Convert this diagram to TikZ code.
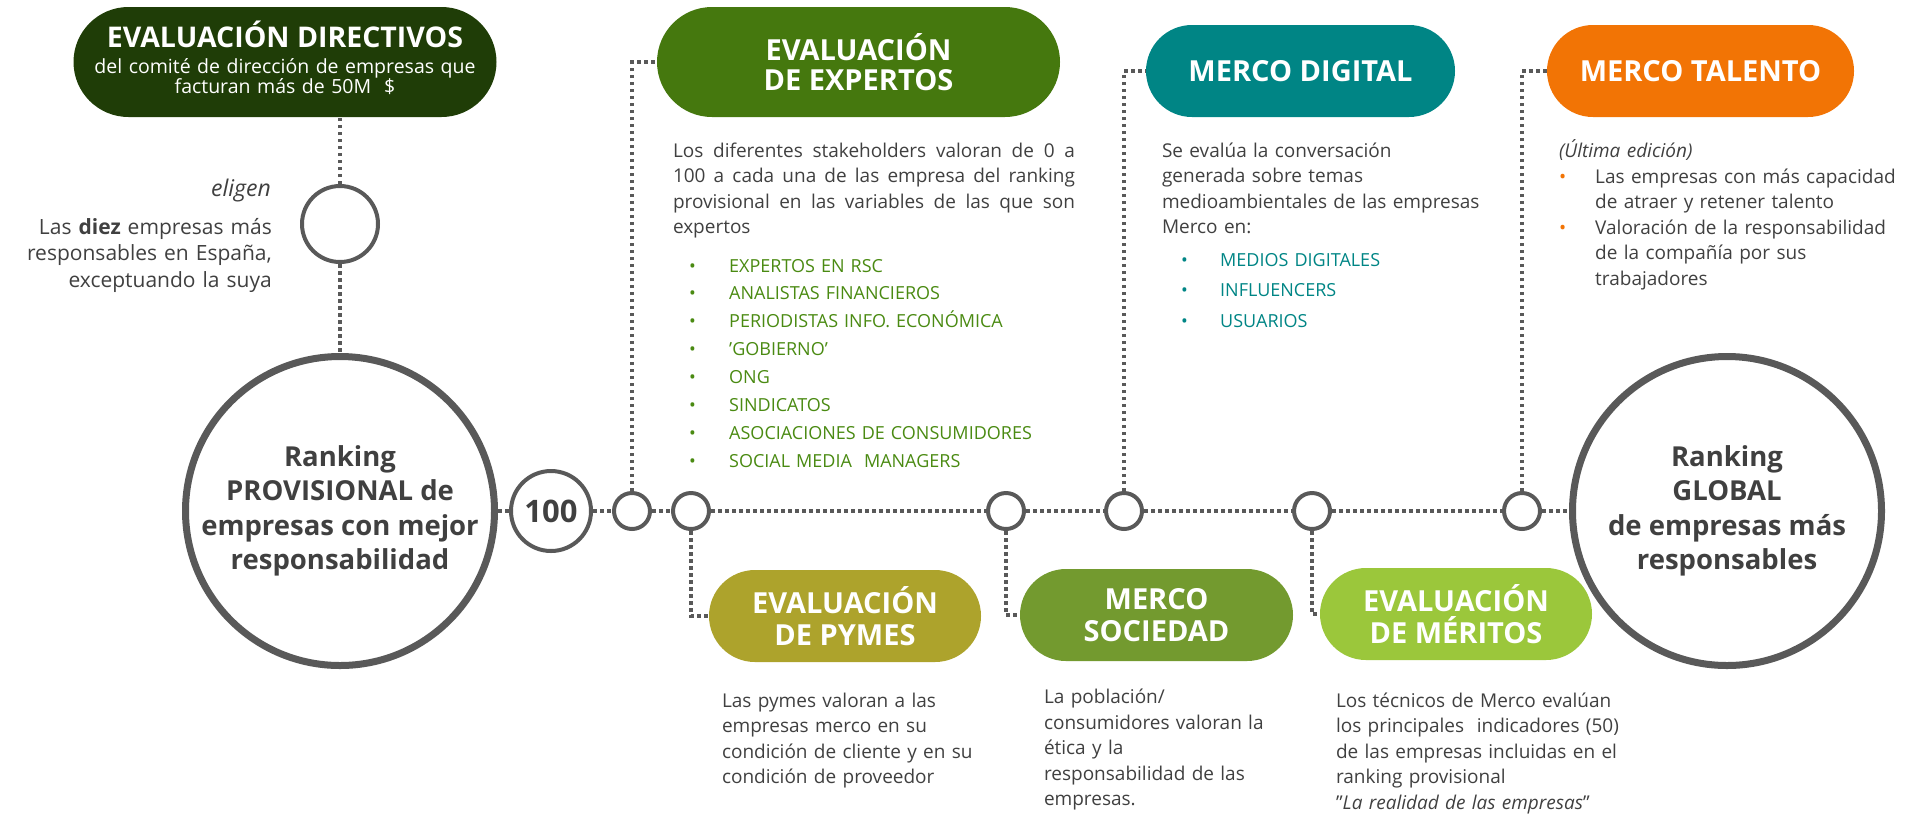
\documentclass[tikz,border=0pt]{standalone}
\usepackage{fontspec}
\setmainfont{Open Sans}
\usetikzlibrary{positioning}
\hyphenpenalty=10000
\exhyphenpenalty=10000

\definecolor{grisLinea}{HTML}{595959}
\definecolor{grisTexto}{HTML}{404040}
\definecolor{verdeOscuro}{HTML}{1F3D07}
\definecolor{verdeExpertos}{HTML}{45780E}
\definecolor{verdeLista}{HTML}{4A8A12}
\definecolor{tealDigital}{HTML}{008585}
\definecolor{naranjaTalento}{HTML}{F27405}
\definecolor{oliva}{HTML}{ADA32C}
\definecolor{verdeSociedad}{HTML}{739A2F}
\definecolor{verdeMeritos}{HTML}{9BC73B}

\begin{document}
\begin{tikzpicture}[x=1pt, y=-1pt,
    pildora/.style={rectangle, rounded corners=46pt, minimum height=92pt, inner sep=0pt, text=white, align=center, font=\fontsize{29}{32}\selectfont\bfseries},
    pildoraAlta/.style={pildora, rounded corners=55pt, minimum height=110pt},
    aro/.style={circle, draw=grisLinea, line width=4pt, minimum size=36pt, inner sep=0pt},
    aroGrande/.style={circle, draw=grisLinea, line width=7pt, minimum size=309pt, inner sep=0pt, align=center, text=grisTexto, font=\fontsize{27.5}{34.5}\selectfont\bfseries},
    linea/.style={grisLinea, line width=3.5pt, dash pattern=on 3.5pt off 3.5pt},
    texto/.style={text=grisTexto, inner sep=0pt, text width=340pt, align=left, font=\fontsize{19}{25.5}\selectfont},
    lista/.style={inner sep=0pt, text width=440pt, align=left, anchor=base west, font=\fontsize{18}{27.9}\selectfont}]
  \useasboundingbox (0,0) rectangle (1908,815);

  % Círculos
  \node[aroGrande] (provC) at (340,511) {Ranking\\PROVISIONAL de\\empresas con mejor\\responsabilidad};
  \node[aroGrande] (globalC) at (1727,511) {Ranking\\GLOBAL\\de empresas más\\responsables};
  \node[aro, minimum size=80pt, text=grisTexto, font=\fontsize{31}{31}\selectfont\bfseries] (cienC) at (551,511) {100};
  \node[aro, minimum size=76pt] (eligenC) at (340,224) {};
  \node[aro] (c1) at (632,511) {};
  \node[aro] (c2) at (691,511) {};
  \node[aro] (c3) at (1006,511) {};
  \node[aro] (c4) at (1124,511) {};
  \node[aro] (c5) at (1312,511) {};
  \node[aro] (c6) at (1522,511) {};

  % Píldoras
  \node[pildoraAlta, fill=verdeOscuro, minimum width=423pt] (dirPill) at (285,62) {};
  \node[text=white, anchor=base, font=\fontsize{28.5}{30}\selectfont\bfseries] (dirTit) at (285,47) {EVALUACIÓN DIRECTIVOS};
  \node[text=white, anchor=base, text width=420pt, align=center, font=\fontsize{19.5}{20.5}\selectfont] (dirSub) at (285,73) {del comité de dirección de empresas que\\facturan más de 50M \ \$};
  \node[pildoraAlta, fill=verdeExpertos, minimum width=403pt, font=\fontsize{29}{30}\selectfont\bfseries] (expPill) at (858.5,62) {EVALUACIÓN\\DE EXPERTOS};
  \node[pildora, fill=tealDigital, minimum width=309pt] (digPill) at (1300.5,71) {MERCO DIGITAL};
  \node[pildora, fill=naranjaTalento, minimum width=307pt] (talPill) at (1700.5,71) {MERCO TALENTO};
  \node[pildora, fill=oliva, minimum width=272pt] (pymPill) at (845,616) {EVALUACIÓN\\DE PYMES};
  \node[pildora, fill=verdeSociedad, minimum width=273pt] (socPill) at (1156.5,615) {MERCO\\SOCIEDAD};
  \node[pildora, fill=verdeMeritos, minimum width=272pt] (merPill) at (1456,614) {EVALUACIÓN\\DE MÉRITOS};

  % Textos
  \node[texto, anchor=base east, text width=260pt, align=right, font=\fontsize{23}{25}\selectfont\itshape] (eligenTxt) at (271,196) {eligen};
  \node[texto, anchor=base east, text width=280pt, align=right, font=\fontsize{21}{26.5}\selectfont] (diezTxt) at (272,234) {Las \textbf{diez} empresas más\\responsables en España,\\exceptuando la suya};
  \node[texto, below right=25.5pt and 16pt of expPill.south west, text width=402pt, align=justify] (expTxt) {Los diferentes stakeholders valoran de 0 a\linebreak 100 a cada una de las empresa del ranking\linebreak provisional en las variables de las que son\linebreak expertos};
  \node[texto, below right=25.5pt and 16pt of digPill.south west] (digTxt) {Se evalúa la conversación\\generada sobre temas\\medioambientales de las empresas\\Merco en:};
  \node[texto, below right=22pt and 12pt of talPill.south west] (talTxt) {\textit{(Última edición)}};
  \node[texto, below right=30.5pt and 13pt of pymPill.south west] (pymTxt) {Las pymes valoran a las\\empresas merco en su\\condición de cliente y en su\\condición de proveedor};
  \node[texto, below right=28pt and 24pt of socPill.south west] (socTxt) {La población/\\consumidores valoran la\\ética y la\\responsabilidad de las\\empresas.};
  \node[texto, below right=32.5pt and 16pt of merPill.south west] (merTxt) {Los técnicos de Merco evalúan\\los principales \ indicadores (50)\\de las empresas incluidas en el\\ranking provisional\\\symbol{34}\textit{La realidad de las empresas}\symbol{34}};

  % Listas
  \node[lista, text=verdeLista] (expLst) at (689,272) {\makebox[40pt][l]{\textbullet}EXPERTOS EN RSC\\\makebox[40pt][l]{\textbullet}ANALISTAS FINANCIEROS\\\makebox[40pt][l]{\textbullet}PERIODISTAS INFO. ECONÓMICA\\\makebox[40pt][l]{\textbullet}\symbol{39}GOBIERNO’\\\makebox[40pt][l]{\textbullet}ONG\\\makebox[40pt][l]{\textbullet}SINDICATOS\\\makebox[40pt][l]{\textbullet}ASOCIACIONES DE CONSUMIDORES\\\makebox[40pt][l]{\textbullet}SOCIAL MEDIA \ MANAGERS};
  \node[lista, text=tealDigital, font=\fontsize{18}{30.5}\selectfont] (digLst) at (1181,266) {\makebox[39pt][l]{\textbullet}MEDIOS DIGITALES\\\makebox[39pt][l]{\textbullet}INFLUENCERS\\\makebox[39pt][l]{\textbullet}USUARIOS};
  \node[lista, text=grisTexto, font=\fontsize{19}{25.5}\selectfont] (talLst) at (1559,183) {\makebox[36pt][l]{\textcolor{naranjaTalento}{\textbullet}}Las empresas con más capacidad\\\hspace*{36pt}de atraer y retener talento\\\makebox[36pt][l]{\textcolor{naranjaTalento}{\textbullet}}Valoración de la responsabilidad\\\hspace*{36pt}de la compañía por sus\\\hspace*{36pt}trabajadores};

  % Conexiones
  \draw[linea] (eligenC.north) -- (eligenC.north |- dirPill.south);
  \draw[linea] (eligenC) -- (provC);
  \foreach \a/\b in {provC/cienC, cienC/c1, c1/c2, c2/c3, c3/c4, c4/c5, c5/c6, c6/globalC}
    \draw[linea] (\a) -- (\b);
  \foreach \a/\b in {c1/expPill, c2/pymPill, c3/socPill, c4/digPill, c5/merPill, c6/talPill}
    \draw[linea] (\a) |- (\b);
\end{tikzpicture}
\end{document}
